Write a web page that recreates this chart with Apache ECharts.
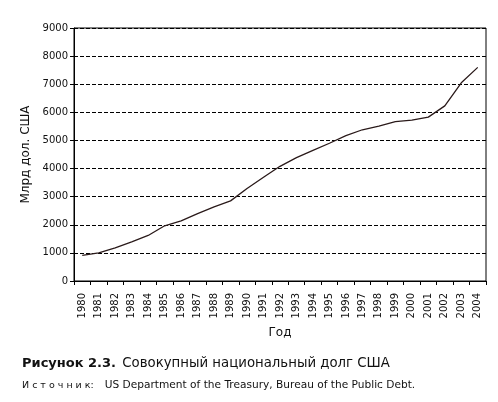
<!DOCTYPE html>
<html>
<head>
<meta charset="utf-8">
<script src="https://cdn.jsdelivr.net/npm/echarts@6/dist/echarts.min.js"></script>
<style>html,body{margin:0;padding:0;background:#fff}#c{width:498px;height:402px}</style>
</head>
<body>
<div id="c"></div>
<script>
var years = ['1980','1981','1982','1983','1984','1985','1986','1987','1988','1989','1990','1991','1992','1993','1994','1995','1996','1997','1998','1999','2000','2001','2002','2003','2004'];
var debt = [908, 1000, 1175, 1390, 1620, 1965, 2140, 2400, 2640, 2850, 3290, 3690, 4080, 4390, 4650, 4900, 5170, 5380, 5510, 5670, 5720, 5830, 6230, 7050, 7600];
var yTicks = [0, 1000, 2000, 3000, 4000, 5000, 6000, 7000, 8000, 9000];

var chart = echarts.init(document.getElementById('c'));
var font = 'DejaVu Sans, Verdana, sans-serif';
chart.setOption({
  animation: false,
  textStyle: {fontFamily: font, color: '#111'},
  title: [{
    left: 22, top: 355, padding: 0,
    text: '{b|Рисунок 2.3.} {n|Совокупный национальный долг США}',
    textStyle: {rich: {
      b: {fontFamily: font, fontSize: 13, fontWeight: 'bold', color: '#111'},
      n: {fontFamily: font, fontSize: 13.3, fontWeight: 'normal', color: '#111'}
    }}
  }, {
    left: 22, top: 380, padding: 0,
    text: '{s|И с т о ч н и к:}{n|US Department of the Treasury, Bureau of the Public Debt.}',
    textStyle: {rich: {
      s: {fontFamily: font, fontSize: 9.5, fontWeight: 'normal', color: '#111'},
      n: {fontFamily: font, fontSize: 10.6, fontWeight: 'normal', color: '#111', padding: [0, 0, 0, 11]}
    }}
  }],
  grid: {left: 74, right: 12, top: 28, bottom: 121, show: true, borderColor: '#000', borderWidth: 1, backgroundColor: 'transparent'},
  xAxis: {
    type: 'category',
    data: years,
    boundaryGap: true,
    name: 'Год',
    nameLocation: 'middle',
    nameGap: 46,
    nameTextStyle: {fontFamily: font, fontSize: 12, color: '#111'},
    axisLine: {lineStyle: {color: '#000', width: 1}},
    axisTick: {show: true, length: 4, interval: 0, lineStyle: {color: '#000'}},
    axisLabel: {rotate: 90, interval: 0, fontSize: 10, color: '#111', margin: 12, fontFamily: font},
    splitLine: {show: false}
  },
  yAxis: {
    type: 'value',
    min: 0, max: 9000, interval: 1000,
    name: 'Млрд дол. США',
    nameLocation: 'middle',
    nameGap: 40,
    nameRotate: 90,
    nameTextStyle: {fontFamily: font, fontSize: 12, color: '#111'},
    axisLine: {show: true, lineStyle: {color: '#000', width: 1}},
    axisTick: {show: true, length: 4, lineStyle: {color: '#000'}},
    axisLabel: {fontSize: 10, color: '#111', margin: 6, fontFamily: font,
      formatter: function (v) { return yTicks.indexOf(v) >= 0 ? String(v) : ''; }},
    splitLine: {show: true, lineStyle: {color: '#000', width: 1, type: [4, 2]}}
  },
  series: [{
    type: 'line',
    data: debt,
    symbol: 'none',
    lineStyle: {color: '#2a1a1a', width: 1.3}
  }]
});
</script>
</body>
</html>
